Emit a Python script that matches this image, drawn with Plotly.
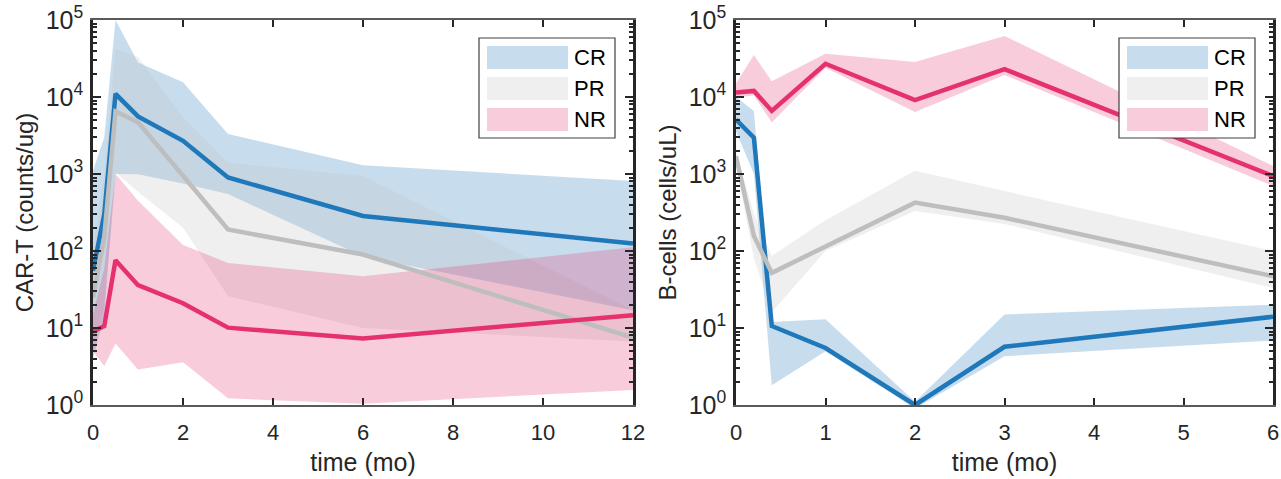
import plotly.graph_objects as go

# ---- CAR-T expansion (counts/ug) by response group ----
t_cart = [0, 0.25, 0.5, 1, 2, 3, 6, 12]
cart_cr_med = [55, 300, 11000, 5600, 2700, 900, 285, 125]
cart_cr_hi = [1100, 3000, 100000, 28000, 15500, 3300, 1300, 810]
cart_cr_lo = [4, 15, 1000, 990, 750, 550, 85, 17]
cart_pr_med = [25, 150, 6500, 4700, 950, 190, 90, 7.5]
cart_pr_hi = [100, 1000, 42000, 33000, 5500, 1400, 940, 17]
cart_pr_lo = [5, 20, 1050, 590, 200, 26, 10, 6.7]
cart_nr_med = [9, 10.6, 76, 36, 21, 10.1, 7.3, 14.7]
cart_nr_hi = [15, 60, 1000, 450, 120, 70, 47, 112]
cart_nr_lo = [5, 3.2, 6.3, 2.9, 3.6, 1.22, 1.04, 1.57]

# ---- B-cell counts (cells/uL) by response group ----
t_bcell = [0, 0.2, 0.4, 1, 2, 3, 6]
b_cr_med = [5100, 2960, 10.6, 5.5, 1.0, 5.7, 14]
b_cr_hi = [10000, 6600, 12, 13, 1.1, 15, 20]
b_cr_lo = [3600, 1000, 1.8, 5.0, 0.9, 4.3, 6.9]
b_pr_med = [1700, 157, 52, 113, 425, 270, 47]
b_pr_hi = [2000, 300, 86, 250, 1100, 600, 100]
b_pr_lo = [1300, 80, 16, 100, 330, 225, 33]
b_nr_med = [11400, 12000, 6600, 27000, 9100, 23000, 940]
b_nr_hi = [15000, 35000, 16000, 36500, 28500, 62000, 1270]
b_nr_lo = [9800, 10500, 4650, 24000, 6400, 19300, 700]

groups = ["CR", "PR", "NR"]
line_colors = {"CR": (31, 120, 186), "PR": (190, 190, 190), "NR": (229, 50, 110)}
BAND_ALPHA = 0.25

y_tickvals = [1, 10, 100, 1000, 10000, 100000]
y_ticktext = ["10<sup>%d</sup>" % k for k in range(6)]
y_minor = [m * 10 ** k for k in range(5) for m in range(2, 10)]

FONT = "Liberation Sans, Arial, sans-serif"
TXT = "#262626"


def rgb(c):
    return "rgb(%d,%d,%d)" % c


def rgba(c, a):
    return "rgba(%d,%d,%d,%.2f)" % (c + (a,))


fig = go.Figure()

panels = [
    ("x", "y", t_cart, {
        "CR": (cart_cr_med, cart_cr_lo, cart_cr_hi),
        "PR": (cart_pr_med, cart_pr_lo, cart_pr_hi),
        "NR": (cart_nr_med, cart_nr_lo, cart_nr_hi),
    }),
    ("x2", "y2", t_bcell, {
        "CR": (b_cr_med, b_cr_lo, b_cr_hi),
        "PR": (b_pr_med, b_pr_lo, b_pr_hi),
        "NR": (b_nr_med, b_nr_lo, b_nr_hi),
    }),
]

for xa, ya, t, series in panels:
    # shaded ranges first
    for g in groups:
        med, lo, hi = series[g]
        fig.add_trace(go.Scatter(
            x=list(t) + list(t)[::-1], y=list(hi) + list(lo)[::-1],
            xaxis=xa, yaxis=ya, mode="lines", line=dict(width=0),
            fill="toself", fillcolor=rgba(line_colors[g], BAND_ALPHA),
            hoverinfo="skip", showlegend=False))
    # median lines on top
    for g in groups:
        med, lo, hi = series[g]
        fig.add_trace(go.Scatter(
            x=t, y=med, xaxis=xa, yaxis=ya, mode="lines",
            line=dict(color=rgb(line_colors[g]), width=4.5),
            name=g, showlegend=False))

# plot-area pixel geometry
FIG_W, FIG_H = 1281, 479
M_L, M_R, M_T, M_B = 93, 8, 20, 74
areas = {"x": (93, 633), "x2": (736, 1273)}
PLOT_TOP, PLOT_BOT = M_T, FIG_H - M_B
inner_w = FIG_W - M_L - M_R
dom1 = [(areas["x"][0] - M_L) / inner_w, (areas["x"][1] - M_L) / inner_w]
dom2 = [(areas["x2"][0] - M_L) / inner_w, (areas["x2"][1] - M_L) / inner_w]

xcommon = dict(showline=True, linecolor="#5a5a5a", linewidth=2, mirror="ticks",
               ticks="inside", ticklen=7, tickwidth=2, tickcolor="#262626",
               showgrid=False, zeroline=False, ticklabelstandoff=7,
               tickfont=dict(family=FONT, size=22, color=TXT),
               title=dict(text="time (mo)", font=dict(family=FONT, size=25, color=TXT), standoff=9))
ycommon = dict(type="log", range=[0, 5], showline=True, linecolor="#262626", linewidth=2.5,
               mirror="ticks", ticks="inside", ticklen=8, tickwidth=2, tickcolor="#262626",
               tickmode="array", tickvals=y_tickvals, ticktext=y_ticktext,
               minor=dict(tickmode="array", tickvals=y_minor, ticks="inside", ticklen=4,
                          tickwidth=1.5, tickcolor="#262626", showgrid=False),
               showgrid=False, zeroline=False, ticklabelstandoff=2,
               tickfont=dict(family=FONT, size=25, color=TXT))

fig.update_layout(
    width=FIG_W, height=FIG_H,
    margin=dict(l=M_L, r=M_R, t=M_T, b=M_B, autoexpand=False),
    paper_bgcolor="white", plot_bgcolor="white", showlegend=False,
    xaxis=dict(xcommon, domain=dom1, range=[0, 12], tickvals=[0, 2, 4, 6, 8, 10, 12], anchor="y"),
    yaxis=dict(ycommon, domain=[0, 1], anchor="x",
               title=dict(text="CAR-T (counts/ug)", font=dict(family=FONT, size=24, color=TXT), standoff=6)),
    xaxis2=dict(xcommon, domain=dom2, range=[0, 6], tickvals=[0, 1, 2, 3, 4, 5, 6], anchor="y2"),
    yaxis2=dict(ycommon, domain=[0, 1], anchor="x2",
                title=dict(text="B-cells (cells/uL)", font=dict(family=FONT, size=24, color=TXT), standoff=6)),
)

# hand-built legend boxes with wide colour swatches
shapes, annots = [], []
plot_h = PLOT_BOT - PLOT_TOP
for xa, ya in (("x", "y"), ("x2", "y2")):
    x0p, x1p = areas[xa]
    w = x1p - x0p

    def fx(px):
        return (px - x0p) / w

    def fy(py):
        return 1 - (py - PLOT_TOP) / plot_h

    box_r = x1p - 18
    box_l = box_r - 136
    box_t = PLOT_TOP + 18
    box_b = box_t + 100
    shapes.append(dict(type="rect", xref=xa + " domain", yref=ya + " domain",
                       x0=fx(box_l), x1=fx(box_r), y0=fy(box_b), y1=fy(box_t),
                       line=dict(color="#404040", width=1.2), fillcolor="white", layer="above"))
    for i, g in enumerate(groups):
        top = box_t + 8 + i * 31
        shapes.append(dict(type="rect", xref=xa + " domain", yref=ya + " domain",
                           x0=fx(box_l + 8), x1=fx(box_l + 89), y0=fy(top + 23), y1=fy(top),
                           line=dict(width=0), fillcolor=rgba(line_colors[g], BAND_ALPHA), layer="above"))
        annots.append(dict(xref=xa + " domain", yref=ya + " domain", x=fx(box_l + 93),
                           y=fy(top + 11.5), text=g, showarrow=False, xanchor="left", yanchor="middle",
                           font=dict(family=FONT, size=22, color="black")))

fig.update_layout(shapes=shapes, annotations=annots)
fig.write_html("out.html")
